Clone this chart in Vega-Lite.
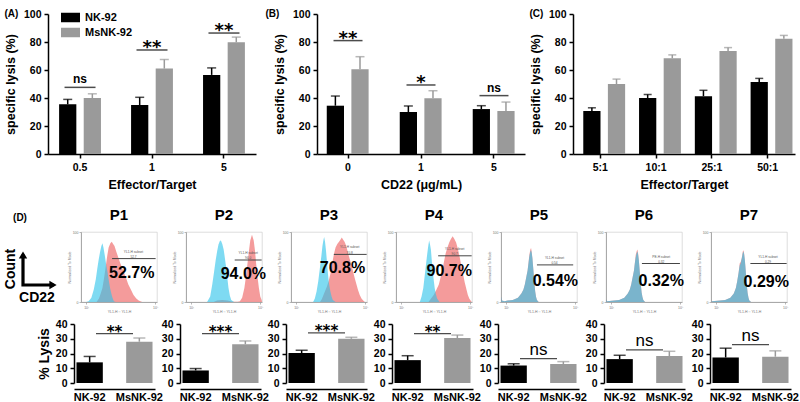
{
"$schema": "https://vega.github.io/schema/vega-lite/v6.json",
"padding": {"left": 4, "top": 8, "right": 2, "bottom": 0},
"background": "white",
"config": {
 "font": "Liberation Sans",
 "view": {"stroke": null},
 "axis": {"labelFont": "Liberation Sans", "titleFont": "Liberation Sans", "labelFontWeight": "bold", "titleFontWeight": "bold", "labelColor": "#000", "titleColor": "#000", "domainColor": "#000", "tickColor": "#000", "grid": false, "domainWidth": 1.5, "tickWidth": 1.5, "tickSize": 4, "labelFontSize": 10.5, "titleFontSize": 12.5, "labelPadding": 3, "titlePadding": 6, "labelOverlap": false},
 "legend": {"orient": "none", "title": null, "symbolType": "M-1,-0.5H1V0.5H-1Z", "symbolSize": 361, "symbolStrokeWidth": 0, "labelFontSize": 11, "labelFontWeight": "bold", "labelFont": "Liberation Sans", "labelColor": "#000", "rowPadding": 0, "padding": 0, "labelOffset": 5},
 "header": {"labelFont": "Liberation Sans", "labelColor": "#000"}
},
"concat": [
 {"hconcat": [
  {
   "width": 208, "height": 140,
   "title": {"text": "(A)", "anchor": "start", "frame": "bounds", "fontSize": 10, "fontWeight": "bold", "offset": -10},
   "data": {"values": [
    {"g": "0.5", "s": "NK-92", "v": 35.5, "e": 39},
    {"g": "0.5", "s": "MsNK-92", "v": 40, "e": 43},
    {"g": "1", "s": "NK-92", "v": 35, "e": 40.5},
    {"g": "1", "s": "MsNK-92", "v": 61, "e": 67.5},
    {"g": "5", "s": "NK-92", "v": 56.5, "e": 61.5},
    {"g": "5", "s": "MsNK-92", "v": 79.8, "e": 83.5},
    {"g": "0.5", "sy": 47.6, "st": "ns"},
    {"g": "1", "sy": 74.3, "st": "**"},
    {"g": "5", "sy": 86.4, "st": "**"}
   ]},
   "encoding": {"x": {"field": "g", "type": "nominal", "sort": ["0.5", "1", "5"], "title": "Effector/Target", "scale": {"paddingInner": 0.35, "paddingOuter": 0.12}, "axis": {"labelAngle": 0, "labelPadding": 4}}},
   "layer": [
    {"transform": [{"filter": "isValid(datum.v)"}], "mark": {"type": "bar"},
     "encoding": {"xOffset": {"field": "s", "sort": ["NK-92", "MsNK-92"], "scale": {"paddingInner": 0.3}},
      "y": {"field": "v", "type": "quantitative", "title": "specific lysis (%)", "scale": {"domain": [0, 100]}, "axis": {"values": [0, 20, 40, 60, 80, 100], "labelOverlap": false}},
      "color": {"field": "s", "type": "nominal", "sort": ["NK-92", "MsNK-92"], "scale": {"domain": ["NK-92", "MsNK-92"], "range": ["#000000", "#9a9a9a"]}, "legend": {"legendX": 13, "legendY": -6}}}},
    {"transform": [{"filter": "isValid(datum.v)"}], "mark": {"type": "rule", "strokeWidth": 1.5},
     "encoding": {"xOffset": {"field": "s", "sort": ["NK-92", "MsNK-92"]}, "y": {"field": "v", "type": "quantitative", "title": "specific lysis (%)", "axis": {"values": [0, 20, 40, 60, 80, 100], "labelOverlap": false}}, "y2": {"field": "e"}, "color": {"field": "s", "type": "nominal", "legend": null}}},
    {"transform": [{"filter": "isValid(datum.v)"}], "mark": {"type": "tick", "thickness": 1.5, "size": 9},
     "encoding": {"xOffset": {"field": "s", "sort": ["NK-92", "MsNK-92"]}, "y": {"field": "e", "type": "quantitative", "title": "specific lysis (%)", "axis": {"values": [0, 20, 40, 60, 80, 100], "labelOverlap": false}}, "color": {"field": "s", "type": "nominal", "legend": null}}},
    {"transform": [{"filter": "isValid(datum.sy)"}], "mark": {"type": "tick", "thickness": 1.5, "size": 31, "color": "#000"},
     "encoding": {"y": {"field": "sy", "type": "quantitative", "title": "specific lysis (%)", "axis": {"values": [0, 20, 40, 60, 80, 100], "labelOverlap": false}}}},
    {"transform": [{"filter": "datum.st === 'ns'"}], "mark": {"type": "text", "font": "Liberation Sans", "fontWeight": "bold", "fontSize": 12, "baseline": "alphabetic", "dy": -4},
     "encoding": {"y": {"field": "sy", "type": "quantitative", "title": "specific lysis (%)", "axis": {"values": [0, 20, 40, 60, 80, 100], "labelOverlap": false}}, "text": {"field": "st"}}},
    {"transform": [{"filter": "isValid(datum.st) && datum.st !== 'ns'"}], "mark": {"type": "text", "font": "DejaVu Sans", "fontWeight": "bold", "fontSize": 18, "baseline": "alphabetic", "dy": 3},
     "encoding": {"y": {"field": "sy", "type": "quantitative", "title": "specific lysis (%)", "axis": {"values": [0, 20, 40, 60, 80, 100], "labelOverlap": false}}, "text": {"field": "st"}}}
   ]
  },
  {"hconcat": [
   {
    "width": 208, "height": 140,
    "title": {"text": "(B)", "anchor": "start", "frame": "bounds", "fontSize": 10, "fontWeight": "bold", "offset": -10, "dx": -8},
    "data": {"values": [
     {"g": "0", "s": "NK-92", "v": 34.5, "e": 41.4},
     {"g": "0", "s": "MsNK-92", "v": 60.5, "e": 69.5},
     {"g": "1", "s": "NK-92", "v": 30, "e": 34.3},
     {"g": "1", "s": "MsNK-92", "v": 39.8, "e": 45.2},
     {"g": "5", "s": "NK-92", "v": 32.1, "e": 34.5},
     {"g": "5", "s": "MsNK-92", "v": 30.7, "e": 37.1},
     {"g": "0", "sy": 81, "st": "**"},
     {"g": "1", "sy": 49.3, "st": "*"},
     {"g": "5", "sy": 41.7, "st": "ns"}
    ]},
    "encoding": {"x": {"field": "g", "type": "nominal", "sort": ["0", "1", "5"], "title": "CD22 (μg/mL)", "scale": {"paddingInner": 0.35, "paddingOuter": 0.1}, "axis": {"labelAngle": 0, "labelPadding": 4}}},
    "layer": [
     {"transform": [{"filter": "isValid(datum.v)"}], "mark": {"type": "bar"},
      "encoding": {"xOffset": {"field": "s", "sort": ["NK-92", "MsNK-92"], "scale": {"paddingInner": 0.3}},
       "y": {"field": "v", "type": "quantitative", "title": "specific lysis (%)", "scale": {"domain": [0, 100]}, "axis": {"values": [0, 20, 40, 60, 80, 100], "labelOverlap": false}},
       "color": {"field": "s", "type": "nominal", "sort": ["NK-92", "MsNK-92"], "scale": {"domain": ["NK-92", "MsNK-92"], "range": ["#000000", "#9a9a9a"]}, "legend": {"legendX": 129, "legendY": -8}}}},
     {"transform": [{"filter": "isValid(datum.v)"}], "mark": {"type": "rule", "strokeWidth": 1.5},
      "encoding": {"xOffset": {"field": "s", "sort": ["NK-92", "MsNK-92"]}, "y": {"field": "v", "type": "quantitative", "title": "specific lysis (%)", "axis": {"values": [0, 20, 40, 60, 80, 100], "labelOverlap": false}}, "y2": {"field": "e"}, "color": {"field": "s", "type": "nominal", "legend": null}}},
     {"transform": [{"filter": "isValid(datum.v)"}], "mark": {"type": "tick", "thickness": 1.5, "size": 9},
      "encoding": {"xOffset": {"field": "s", "sort": ["NK-92", "MsNK-92"]}, "y": {"field": "e", "type": "quantitative", "title": "specific lysis (%)", "axis": {"values": [0, 20, 40, 60, 80, 100], "labelOverlap": false}}, "color": {"field": "s", "type": "nominal", "legend": null}}},
     {"transform": [{"filter": "isValid(datum.sy)"}], "mark": {"type": "tick", "thickness": 1.5, "size": 29, "color": "#000"},
      "encoding": {"y": {"field": "sy", "type": "quantitative", "title": "specific lysis (%)", "axis": {"values": [0, 20, 40, 60, 80, 100], "labelOverlap": false}}}},
     {"transform": [{"filter": "datum.st === 'ns'"}], "mark": {"type": "text", "font": "Liberation Sans", "fontWeight": "bold", "fontSize": 12, "baseline": "alphabetic", "dy": -4},
      "encoding": {"y": {"field": "sy", "type": "quantitative", "title": "specific lysis (%)", "axis": {"values": [0, 20, 40, 60, 80, 100], "labelOverlap": false}}, "text": {"field": "st"}}},
     {"transform": [{"filter": "isValid(datum.st) && datum.st !== 'ns'"}], "mark": {"type": "text", "font": "DejaVu Sans", "fontWeight": "bold", "fontSize": 18, "baseline": "alphabetic", "dy": 3},
      "encoding": {"y": {"field": "sy", "type": "quantitative", "title": "specific lysis (%)", "axis": {"values": [0, 20, 40, 60, 80, 100], "labelOverlap": false}}, "text": {"field": "st"}}}
    ]
   },
   {
    "width": 222, "height": 140,
    "title": {"text": "(C)", "anchor": "start", "frame": "bounds", "fontSize": 10, "fontWeight": "bold", "offset": -10},
    "data": {"values": [
     {"g": "5:1", "s": "NK-92", "v": 30.7, "e": 33},
     {"g": "5:1", "s": "MsNK-92", "v": 50, "e": 53.5},
     {"g": "10:1", "s": "NK-92", "v": 40, "e": 42.5},
     {"g": "10:1", "s": "MsNK-92", "v": 68.4, "e": 70.8},
     {"g": "25:1", "s": "NK-92", "v": 41.3, "e": 45.5},
     {"g": "25:1", "s": "MsNK-92", "v": 73.6, "e": 76},
     {"g": "50:1", "s": "NK-92", "v": 51.4, "e": 54},
     {"g": "50:1", "s": "MsNK-92", "v": 82.3, "e": 84.7}
    ]},
    "encoding": {"x": {"field": "g", "type": "nominal", "sort": ["5:1", "10:1", "25:1", "50:1"], "title": "Effector/Target", "scale": {"paddingInner": 0.3, "paddingOuter": 0.14}, "axis": {"labelAngle": 0, "labelPadding": 4}}},
    "layer": [
     {"mark": {"type": "bar"},
      "encoding": {"xOffset": {"field": "s", "sort": ["NK-92", "MsNK-92"], "scale": {"paddingInner": 0.36, "paddingOuter": 0.1}},
       "y": {"field": "v", "type": "quantitative", "title": "specific lysis (%)", "scale": {"domain": [0, 100]}, "axis": {"values": [0, 20, 40, 60, 80, 100], "labelOverlap": false}},
       "color": {"field": "s", "type": "nominal", "sort": ["NK-92", "MsNK-92"], "scale": {"domain": ["NK-92", "MsNK-92"], "range": ["#000000", "#9a9a9a"]}, "legend": {"legendX": 18, "legendY": -8}}}},
     {"mark": {"type": "rule", "strokeWidth": 1.5},
      "encoding": {"xOffset": {"field": "s", "sort": ["NK-92", "MsNK-92"]}, "y": {"field": "v", "type": "quantitative", "title": "specific lysis (%)", "axis": {"values": [0, 20, 40, 60, 80, 100], "labelOverlap": false}}, "y2": {"field": "e"}, "color": {"field": "s", "type": "nominal", "legend": null}}},
     {"mark": {"type": "tick", "thickness": 1.5, "size": 8},
      "encoding": {"xOffset": {"field": "s", "sort": ["NK-92", "MsNK-92"]}, "y": {"field": "e", "type": "quantitative", "title": "specific lysis (%)", "axis": {"values": [0, 20, 40, 60, 80, 100], "labelOverlap": false}}, "color": {"field": "s", "type": "nominal", "legend": null}}}
    ]
   }
  ], "spacing": 4}
 ], "spacing": 9},
 {"concat": [
  {"hconcat": [
   {
    "width": 14, "height": 70,
    "data": {"values": [
     {"ax": -25, "ay": 46, "o": 0},
     {"ax": -25, "ay": 17, "o": 1},
     {"ax": 4, "ay": 17, "o": 2},
     {"px": -25, "py": 47, "sh": "triangle-up"},
     {"px": 5, "py": 17, "sh": "triangle-right"},
     {"tx": -37, "ty": 33, "t": "Count", "rot": 1},
     {"tx": -11, "ty": 4, "t": "CD22", "rot": 0},
     {"tx": -28, "ty": 84, "t": "(D)", "rot": 2}
    ]},
    "layer": [
     {"transform": [{"filter": "isValid(datum.o)"}], "mark": {"type": "line", "strokeWidth": 3.2, "color": "#000", "strokeCap": "square"},
      "encoding": {"x": {"field": "ax", "type": "quantitative", "scale": {"domain": [0, 14], "zero": false, "nice": false}, "axis": null}, "y": {"field": "ay", "type": "quantitative", "scale": {"domain": [0, 70], "nice": false}, "axis": null}, "order": {"field": "o"}}},
     {"transform": [{"filter": "isValid(datum.sh)"}], "mark": {"type": "point", "filled": true, "color": "#000", "size": 70, "opacity": 1},
      "encoding": {"x": {"field": "px", "type": "quantitative", "axis": null}, "y": {"field": "py", "type": "quantitative", "axis": null}, "shape": {"field": "sh", "type": "nominal", "scale": null}}},
     {"transform": [{"filter": "datum.rot === 1"}], "mark": {"type": "text", "angle": 270, "fontSize": 14, "fontWeight": "bold", "font": "Liberation Sans"},
      "encoding": {"x": {"field": "tx", "type": "quantitative", "axis": null}, "y": {"field": "ty", "type": "quantitative", "axis": null}, "text": {"field": "t"}}},
     {"transform": [{"filter": "datum.rot === 0"}], "mark": {"type": "text", "fontSize": 14, "fontWeight": "bold", "font": "Liberation Sans"},
      "encoding": {"x": {"field": "tx", "type": "quantitative", "axis": null}, "y": {"field": "ty", "type": "quantitative", "axis": null}, "text": {"field": "t"}}},
     {"transform": [{"filter": "datum.rot === 2"}], "mark": {"type": "text", "fontSize": 10, "fontWeight": "bold", "font": "Liberation Sans"},
      "encoding": {"x": {"field": "tx", "type": "quantitative", "axis": null}, "y": {"field": "ty", "type": "quantitative", "axis": null}, "text": {"field": "t"}}}
    ]
   },
   {
    "data": {"values": [
     {"p":"P1","c":"iso","x":0.0,"y":0},{"p":"P1","c":"iso","x":0.14,"y":1},{"p":"P1","c":"iso","x":0.3,"y":6},{"p":"P1","c":"iso","x":0.44,"y":18},{"p":"P1","c":"iso","x":0.56,"y":33},{"p":"P1","c":"iso","x":0.64,"y":47},{"p":"P1","c":"iso","x":0.72,"y":60},{"p":"P1","c":"iso","x":0.8,"y":71},{"p":"P1","c":"iso","x":0.88,"y":80},{"p":"P1","c":"iso","x":0.94,"y":84},{"p":"P1","c":"iso","x":1.0,"y":78},{"p":"P1","c":"iso","x":1.08,"y":66},{"p":"P1","c":"iso","x":1.16,"y":53},{"p":"P1","c":"iso","x":1.24,"y":42},{"p":"P1","c":"iso","x":1.32,"y":29},{"p":"P1","c":"iso","x":1.4,"y":18},{"p":"P1","c":"iso","x":1.5,"y":8},{"p":"P1","c":"iso","x":1.6,"y":1},{"p":"P1","c":"iso","x":1.7,"y":0},
     {"p":"P1","c":"cd","x":0.6,"y":0},{"p":"P1","c":"cd","x":0.74,"y":5},{"p":"P1","c":"cd","x":0.84,"y":12},{"p":"P1","c":"cd","x":0.94,"y":20},{"p":"P1","c":"cd","x":1.04,"y":35},{"p":"P1","c":"cd","x":1.14,"y":52},{"p":"P1","c":"cd","x":1.22,"y":66},{"p":"P1","c":"cd","x":1.3,"y":78},{"p":"P1","c":"cd","x":1.4,"y":84},{"p":"P1","c":"cd","x":1.48,"y":86},{"p":"P1","c":"cd","x":1.56,"y":83},{"p":"P1","c":"cd","x":1.64,"y":80},{"p":"P1","c":"cd","x":1.74,"y":72},{"p":"P1","c":"cd","x":1.84,"y":65},{"p":"P1","c":"cd","x":1.98,"y":55},{"p":"P1","c":"cd","x":2.14,"y":45},{"p":"P1","c":"cd","x":2.3,"y":35},{"p":"P1","c":"cd","x":2.44,"y":25},{"p":"P1","c":"cd","x":2.6,"y":17},{"p":"P1","c":"cd","x":2.74,"y":10},{"p":"P1","c":"cd","x":2.9,"y":5},{"p":"P1","c":"cd","x":3.04,"y":2},{"p":"P1","c":"cd","x":3.24,"y":0},
     {"p":"P2","c":"iso","x":0.92,"y":0},{"p":"P2","c":"iso","x":1.1,"y":8},{"p":"P2","c":"iso","x":1.22,"y":25},{"p":"P2","c":"iso","x":1.32,"y":42},{"p":"P2","c":"iso","x":1.42,"y":60},{"p":"P2","c":"iso","x":1.5,"y":72},{"p":"P2","c":"iso","x":1.58,"y":82},{"p":"P2","c":"iso","x":1.66,"y":87},{"p":"P2","c":"iso","x":1.72,"y":88},{"p":"P2","c":"iso","x":1.8,"y":83},{"p":"P2","c":"iso","x":1.88,"y":75},{"p":"P2","c":"iso","x":1.95,"y":63},{"p":"P2","c":"iso","x":2.02,"y":50},{"p":"P2","c":"iso","x":2.1,"y":33},{"p":"P2","c":"iso","x":2.16,"y":20},{"p":"P2","c":"iso","x":2.24,"y":9},{"p":"P2","c":"iso","x":2.32,"y":3},{"p":"P2","c":"iso","x":2.48,"y":0},
     {"p":"P2","c":"cd","x":1.3,"y":0},{"p":"P2","c":"cd","x":1.5,"y":2},{"p":"P2","c":"cd","x":1.8,"y":3},{"p":"P2","c":"cd","x":2.1,"y":2},{"p":"P2","c":"cd","x":2.4,"y":0.5},{"p":"P2","c":"cd","x":2.7,"y":0.5},{"p":"P2","c":"cd","x":2.82,"y":1},{"p":"P2","c":"cd","x":2.95,"y":6},{"p":"P2","c":"cd","x":3.08,"y":20},{"p":"P2","c":"cd","x":3.18,"y":38},{"p":"P2","c":"cd","x":3.26,"y":55},{"p":"P2","c":"cd","x":3.34,"y":72},{"p":"P2","c":"cd","x":3.42,"y":88},{"p":"P2","c":"cd","x":3.52,"y":96},{"p":"P2","c":"cd","x":3.62,"y":88},{"p":"P2","c":"cd","x":3.7,"y":72},{"p":"P2","c":"cd","x":3.76,"y":55},{"p":"P2","c":"cd","x":3.84,"y":36},{"p":"P2","c":"cd","x":3.92,"y":20},{"p":"P2","c":"cd","x":4.0,"y":8},{"p":"P2","c":"cd","x":4.08,"y":3},{"p":"P2","c":"cd","x":4.1,"y":0},
     {"p":"P3","c":"iso","x":0.98,"y":0},{"p":"P3","c":"iso","x":1.08,"y":5},{"p":"P3","c":"iso","x":1.18,"y":15},{"p":"P3","c":"iso","x":1.28,"y":30},{"p":"P3","c":"iso","x":1.38,"y":50},{"p":"P3","c":"iso","x":1.46,"y":66},{"p":"P3","c":"iso","x":1.52,"y":80},{"p":"P3","c":"iso","x":1.58,"y":89},{"p":"P3","c":"iso","x":1.62,"y":93},{"p":"P3","c":"iso","x":1.67,"y":86},{"p":"P3","c":"iso","x":1.72,"y":75},{"p":"P3","c":"iso","x":1.78,"y":58},{"p":"P3","c":"iso","x":1.84,"y":40},{"p":"P3","c":"iso","x":1.9,"y":26},{"p":"P3","c":"iso","x":1.98,"y":15},{"p":"P3","c":"iso","x":2.05,"y":8},{"p":"P3","c":"iso","x":2.12,"y":3},{"p":"P3","c":"iso","x":2.28,"y":0},
     {"p":"P3","c":"cd","x":1.38,"y":0},{"p":"P3","c":"cd","x":1.48,"y":4},{"p":"P3","c":"cd","x":1.58,"y":10},{"p":"P3","c":"cd","x":1.68,"y":16},{"p":"P3","c":"cd","x":1.78,"y":22},{"p":"P3","c":"cd","x":1.88,"y":30},{"p":"P3","c":"cd","x":1.98,"y":40},{"p":"P3","c":"cd","x":2.05,"y":50},{"p":"P3","c":"cd","x":2.12,"y":60},{"p":"P3","c":"cd","x":2.2,"y":70},{"p":"P3","c":"cd","x":2.28,"y":78},{"p":"P3","c":"cd","x":2.38,"y":83},{"p":"P3","c":"cd","x":2.48,"y":86},{"p":"P3","c":"cd","x":2.56,"y":89},{"p":"P3","c":"cd","x":2.64,"y":92},{"p":"P3","c":"cd","x":2.72,"y":89},{"p":"P3","c":"cd","x":2.8,"y":86},{"p":"P3","c":"cd","x":2.9,"y":80},{"p":"P3","c":"cd","x":2.98,"y":72},{"p":"P3","c":"cd","x":3.08,"y":63},{"p":"P3","c":"cd","x":3.18,"y":55},{"p":"P3","c":"cd","x":3.28,"y":45},{"p":"P3","c":"cd","x":3.38,"y":35},{"p":"P3","c":"cd","x":3.48,"y":26},{"p":"P3","c":"cd","x":3.58,"y":17},{"p":"P3","c":"cd","x":3.68,"y":10},{"p":"P3","c":"cd","x":3.78,"y":5},{"p":"P3","c":"cd","x":3.88,"y":2},{"p":"P3","c":"cd","x":3.98,"y":0},
     {"p":"P4","c":"iso","x":1.08,"y":0},{"p":"P4","c":"iso","x":1.18,"y":8},{"p":"P4","c":"iso","x":1.28,"y":20},{"p":"P4","c":"iso","x":1.35,"y":35},{"p":"P4","c":"iso","x":1.42,"y":50},{"p":"P4","c":"iso","x":1.48,"y":63},{"p":"P4","c":"iso","x":1.54,"y":75},{"p":"P4","c":"iso","x":1.58,"y":82},{"p":"P4","c":"iso","x":1.62,"y":88},{"p":"P4","c":"iso","x":1.67,"y":82},{"p":"P4","c":"iso","x":1.72,"y":75},{"p":"P4","c":"iso","x":1.77,"y":60},{"p":"P4","c":"iso","x":1.82,"y":45},{"p":"P4","c":"iso","x":1.88,"y":32},{"p":"P4","c":"iso","x":1.94,"y":20},{"p":"P4","c":"iso","x":2.0,"y":12},{"p":"P4","c":"iso","x":2.08,"y":5},{"p":"P4","c":"iso","x":2.22,"y":0},
     {"p":"P4","c":"cd","x":1.58,"y":0},{"p":"P4","c":"cd","x":1.73,"y":5},{"p":"P4","c":"cd","x":1.88,"y":10},{"p":"P4","c":"cd","x":2.03,"y":17},{"p":"P4","c":"cd","x":2.18,"y":25},{"p":"P4","c":"cd","x":2.28,"y":35},{"p":"P4","c":"cd","x":2.38,"y":45},{"p":"P4","c":"cd","x":2.48,"y":58},{"p":"P4","c":"cd","x":2.58,"y":70},{"p":"P4","c":"cd","x":2.68,"y":78},{"p":"P4","c":"cd","x":2.78,"y":85},{"p":"P4","c":"cd","x":2.88,"y":90},{"p":"P4","c":"cd","x":2.98,"y":94},{"p":"P4","c":"cd","x":3.08,"y":90},{"p":"P4","c":"cd","x":3.18,"y":85},{"p":"P4","c":"cd","x":3.28,"y":76},{"p":"P4","c":"cd","x":3.38,"y":65},{"p":"P4","c":"cd","x":3.48,"y":52},{"p":"P4","c":"cd","x":3.58,"y":40},{"p":"P4","c":"cd","x":3.68,"y":28},{"p":"P4","c":"cd","x":3.78,"y":18},{"p":"P4","c":"cd","x":3.86,"y":10},{"p":"P4","c":"cd","x":3.94,"y":5},{"p":"P4","c":"cd","x":4.08,"y":0},
     {"p":"P5","c":"iso","x":-0.29,"y":0},{"p":"P5","c":"iso","x":-0.27,"y":8},{"p":"P5","c":"iso","x":-0.24,"y":2},{"p":"P5","c":"iso","x":-0.1,"y":1},{"p":"P5","c":"iso","x":0.08,"y":2},{"p":"P5","c":"iso","x":0.38,"y":3},{"p":"P5","c":"iso","x":0.68,"y":6},{"p":"P5","c":"iso","x":0.88,"y":12},{"p":"P5","c":"iso","x":1.0,"y":18},{"p":"P5","c":"iso","x":1.08,"y":25},{"p":"P5","c":"iso","x":1.16,"y":35},{"p":"P5","c":"iso","x":1.24,"y":45},{"p":"P5","c":"iso","x":1.3,"y":57},{"p":"P5","c":"iso","x":1.34,"y":65},{"p":"P5","c":"iso","x":1.4,"y":72},{"p":"P5","c":"iso","x":1.44,"y":74},{"p":"P5","c":"iso","x":1.48,"y":70},{"p":"P5","c":"iso","x":1.52,"y":62},{"p":"P5","c":"iso","x":1.56,"y":50},{"p":"P5","c":"iso","x":1.6,"y":38},{"p":"P5","c":"iso","x":1.64,"y":25},{"p":"P5","c":"iso","x":1.68,"y":15},{"p":"P5","c":"iso","x":1.73,"y":7},{"p":"P5","c":"iso","x":1.78,"y":3},{"p":"P5","c":"iso","x":1.88,"y":0},
     {"p":"P5","c":"cd","x":-0.29,"y":0},{"p":"P5","c":"cd","x":-0.27,"y":7},{"p":"P5","c":"cd","x":-0.24,"y":2},{"p":"P5","c":"cd","x":-0.1,"y":1},{"p":"P5","c":"cd","x":0.08,"y":2},{"p":"P5","c":"cd","x":0.38,"y":3},{"p":"P5","c":"cd","x":0.68,"y":6},{"p":"P5","c":"cd","x":0.88,"y":12},{"p":"P5","c":"cd","x":1.0,"y":18},{"p":"P5","c":"cd","x":1.08,"y":25},{"p":"P5","c":"cd","x":1.16,"y":35},{"p":"P5","c":"cd","x":1.24,"y":45},{"p":"P5","c":"cd","x":1.3,"y":58},{"p":"P5","c":"cd","x":1.34,"y":67},{"p":"P5","c":"cd","x":1.4,"y":75},{"p":"P5","c":"cd","x":1.44,"y":77},{"p":"P5","c":"cd","x":1.48,"y":71},{"p":"P5","c":"cd","x":1.52,"y":62},{"p":"P5","c":"cd","x":1.56,"y":50},{"p":"P5","c":"cd","x":1.6,"y":38},{"p":"P5","c":"cd","x":1.64,"y":25},{"p":"P5","c":"cd","x":1.68,"y":15},{"p":"P5","c":"cd","x":1.73,"y":7},{"p":"P5","c":"cd","x":1.78,"y":3},{"p":"P5","c":"cd","x":1.88,"y":0},
     {"p":"P6","c":"iso","x":-0.29,"y":0},{"p":"P6","c":"iso","x":-0.27,"y":4},{"p":"P6","c":"iso","x":-0.24,"y":1},{"p":"P6","c":"iso","x":0.16,"y":2},{"p":"P6","c":"iso","x":0.46,"y":3},{"p":"P6","c":"iso","x":0.76,"y":6},{"p":"P6","c":"iso","x":0.96,"y":12},{"p":"P6","c":"iso","x":1.08,"y":18},{"p":"P6","c":"iso","x":1.16,"y":25},{"p":"P6","c":"iso","x":1.24,"y":35},{"p":"P6","c":"iso","x":1.32,"y":45},{"p":"P6","c":"iso","x":1.38,"y":57},{"p":"P6","c":"iso","x":1.42,"y":64},{"p":"P6","c":"iso","x":1.48,"y":70},{"p":"P6","c":"iso","x":1.52,"y":72},{"p":"P6","c":"iso","x":1.56,"y":68},{"p":"P6","c":"iso","x":1.6,"y":60},{"p":"P6","c":"iso","x":1.64,"y":48},{"p":"P6","c":"iso","x":1.68,"y":36},{"p":"P6","c":"iso","x":1.72,"y":24},{"p":"P6","c":"iso","x":1.76,"y":14},{"p":"P6","c":"iso","x":1.81,"y":7},{"p":"P6","c":"iso","x":1.86,"y":3},{"p":"P6","c":"iso","x":1.96,"y":0},
     {"p":"P6","c":"cd","x":-0.29,"y":0},{"p":"P6","c":"cd","x":-0.27,"y":4},{"p":"P6","c":"cd","x":-0.24,"y":1},{"p":"P6","c":"cd","x":0.16,"y":2},{"p":"P6","c":"cd","x":0.46,"y":3},{"p":"P6","c":"cd","x":0.76,"y":6},{"p":"P6","c":"cd","x":0.96,"y":12},{"p":"P6","c":"cd","x":1.08,"y":18},{"p":"P6","c":"cd","x":1.16,"y":25},{"p":"P6","c":"cd","x":1.24,"y":35},{"p":"P6","c":"cd","x":1.32,"y":45},{"p":"P6","c":"cd","x":1.38,"y":58},{"p":"P6","c":"cd","x":1.42,"y":67},{"p":"P6","c":"cd","x":1.48,"y":73},{"p":"P6","c":"cd","x":1.52,"y":75},{"p":"P6","c":"cd","x":1.56,"y":69},{"p":"P6","c":"cd","x":1.6,"y":60},{"p":"P6","c":"cd","x":1.64,"y":48},{"p":"P6","c":"cd","x":1.68,"y":36},{"p":"P6","c":"cd","x":1.72,"y":24},{"p":"P6","c":"cd","x":1.76,"y":14},{"p":"P6","c":"cd","x":1.81,"y":7},{"p":"P6","c":"cd","x":1.86,"y":3},{"p":"P6","c":"cd","x":1.96,"y":0},
     {"p":"P7","c":"iso","x":-0.29,"y":0},{"p":"P7","c":"iso","x":-0.25,"y":1},{"p":"P7","c":"iso","x":0.22,"y":2},{"p":"P7","c":"iso","x":0.52,"y":3},{"p":"P7","c":"iso","x":0.82,"y":6},{"p":"P7","c":"iso","x":1.02,"y":12},{"p":"P7","c":"iso","x":1.14,"y":20},{"p":"P7","c":"iso","x":1.22,"y":30},{"p":"P7","c":"iso","x":1.3,"y":42},{"p":"P7","c":"iso","x":1.36,"y":52},{"p":"P7","c":"iso","x":1.42,"y":55},{"p":"P7","c":"iso","x":1.48,"y":62},{"p":"P7","c":"iso","x":1.54,"y":70},{"p":"P7","c":"iso","x":1.58,"y":72},{"p":"P7","c":"iso","x":1.62,"y":68},{"p":"P7","c":"iso","x":1.66,"y":60},{"p":"P7","c":"iso","x":1.7,"y":48},{"p":"P7","c":"iso","x":1.74,"y":35},{"p":"P7","c":"iso","x":1.78,"y":22},{"p":"P7","c":"iso","x":1.82,"y":13},{"p":"P7","c":"iso","x":1.87,"y":6},{"p":"P7","c":"iso","x":1.92,"y":2},{"p":"P7","c":"iso","x":2.02,"y":0},
     {"p":"P7","c":"cd","x":-0.29,"y":0},{"p":"P7","c":"cd","x":-0.25,"y":1},{"p":"P7","c":"cd","x":0.22,"y":2},{"p":"P7","c":"cd","x":0.52,"y":3},{"p":"P7","c":"cd","x":0.82,"y":6},{"p":"P7","c":"cd","x":1.02,"y":12},{"p":"P7","c":"cd","x":1.14,"y":20},{"p":"P7","c":"cd","x":1.22,"y":30},{"p":"P7","c":"cd","x":1.3,"y":42},{"p":"P7","c":"cd","x":1.36,"y":55},{"p":"P7","c":"cd","x":1.42,"y":57},{"p":"P7","c":"cd","x":1.48,"y":63},{"p":"P7","c":"cd","x":1.54,"y":72},{"p":"P7","c":"cd","x":1.58,"y":74},{"p":"P7","c":"cd","x":1.62,"y":69},{"p":"P7","c":"cd","x":1.66,"y":60},{"p":"P7","c":"cd","x":1.7,"y":48},{"p":"P7","c":"cd","x":1.74,"y":35},{"p":"P7","c":"cd","x":1.78,"y":22},{"p":"P7","c":"cd","x":1.82,"y":13},{"p":"P7","c":"cd","x":1.87,"y":6},{"p":"P7","c":"cd","x":1.92,"y":2},{"p":"P7","c":"cd","x":2.02,"y":0},
     {"p":"P1","gx":1.5,"gx2":4.02,"gy":62,"sx":2.74,"sy":72,"sm":"YL1-H subset\n52.7","bx":2.64,"by":42,"big":"52.7%"},
     {"p":"P2","gx":2.52,"gx2":4.08,"gy":60,"sx":3.3,"sy":70,"sm":"YL1-H subset\n94.0","bx":3.02,"by":40,"big":"94.0%"},
     {"p":"P3","gx":2.18,"gx2":4.08,"gy":68,"sx":3.1,"sy":78,"sm":"YL1-H subset\n70.8","bx":2.68,"by":49,"big":"70.8%"},
     {"p":"P4","gx":2.14,"gx2":4.08,"gy":66,"sx":3.1,"sy":76,"sm":"YL1-H subset\n90.7","bx":2.78,"by":44,"big":"90.7%"},
     {"p":"P5","gx":1.78,"gx2":3.88,"gy":53,"sx":2.8,"sy":63,"sm":"YL1-H subset\n0.54","bx":2.85,"by":30,"big":"0.54%"},
     {"p":"P6","gx":1.78,"gx2":3.98,"gy":55,"sx":2.9,"sy":65,"sm":"PE-H subset\n0.32","bx":2.9,"by":30,"big":"0.32%"},
     {"p":"P7","gx":1.98,"gx2":4.08,"gy":55,"sx":3.0,"sy":65,"sm":"YL1-H subset\n0.29","bx":2.9,"by":28,"big":"0.29%"}
    ]},
    "facet": {"column": {"field": "p", "type": "nominal", "header": {"title": null, "labelFontSize": 15, "labelFontWeight": "bold", "labelPadding": 6}}},
    "spacing": 9,
    "resolve": {"axis": {"y": "independent", "x": "independent"}},
    "spec": {
     "width": 76, "height": 70,
     "view": {"stroke": "#cfcfcf", "strokeWidth": 0.7},
     "layer": [
      {"transform": [{"filter": "datum.c === 'cd'"}], "mark": {"type": "area", "color": "#F07070", "opacity": 0.7, "clip": true},
       "encoding": {
        "x": {"field": "x", "type": "quantitative", "scale": {"domain": [-0.3, 4.1], "nice": false, "zero": false}, "title": "YL1-H :: YL1-H", "axis": {"values": [0, 1, 2, 3, 4], "labelExpr": "'10' + ['¹','²','³','⁴','⁵'][datum.value]", "labelFontSize": 3.5, "labelFontWeight": "normal", "labelColor": "#777", "tickSize": 2, "tickWidth": 0.6, "tickColor": "#888", "domainColor": "#999", "domainWidth": 0.8, "titleFontSize": 3.5, "titleFontWeight": "normal", "titleColor": "#777", "titlePadding": 1, "labelPadding": 1}},
        "y": {"field": "y", "type": "quantitative", "scale": {"domain": [0, 100], "nice": false}, "title": "Normalized To Mode", "axis": {"values": [0, 20, 40, 60, 80, 100], "labelFontSize": 3.5, "labelFontWeight": "normal", "labelColor": "#777", "tickSize": 2, "tickWidth": 0.6, "tickColor": "#888", "domainColor": "#999", "domainWidth": 0.8, "titleFontSize": 3.5, "titleFontWeight": "normal", "titleColor": "#777", "titlePadding": 1, "labelPadding": 1}}
       }},
      {"transform": [{"filter": "datum.c === 'iso'"}], "mark": {"type": "area", "color": "#2EC4EA", "opacity": 0.62, "clip": true},
       "encoding": {"x": {"field": "x", "type": "quantitative", "title": "YL1-H :: YL1-H"}, "y": {"field": "y", "type": "quantitative", "title": "Normalized To Mode"}}},
      {"transform": [{"filter": "isValid(datum.gx)"}], "mark": {"type": "rule", "color": "#444", "strokeWidth": 1},
       "encoding": {"x": {"field": "gx", "type": "quantitative", "title": "YL1-H :: YL1-H"}, "x2": {"field": "gx2"}, "y": {"field": "gy", "type": "quantitative", "title": "Normalized To Mode"}}},
      {"transform": [{"filter": "isValid(datum.gx)"}], "mark": {"type": "text", "fontSize": 3.2, "color": "#555", "lineBreak": "\n", "baseline": "middle"},
       "encoding": {"x": {"field": "sx", "type": "quantitative", "title": "YL1-H :: YL1-H"}, "y": {"field": "sy", "type": "quantitative", "title": "Normalized To Mode"}, "text": {"field": "sm"}}},
      {"transform": [{"filter": "isValid(datum.gx)"}], "mark": {"type": "text", "fontSize": 16, "fontWeight": "bold", "color": "#000", "baseline": "middle", "font": "Liberation Sans"},
       "encoding": {"x": {"field": "bx", "type": "quantitative", "title": "YL1-H :: YL1-H"}, "y": {"field": "by", "type": "quantitative", "title": "Normalized To Mode"}, "text": {"field": "big"}}}
     ]
    }
   }
  ], "spacing": 4},
  {"hconcat": [
   {"width": 1, "height": 59,
    "data": {"values": [{"lx": -3, "ly": 29, "t": "% Lysis"}]},
    "mark": {"type": "text", "angle": 270, "fontSize": 14, "fontWeight": "bold", "font": "Liberation Sans"},
    "encoding": {"x": {"field": "lx", "type": "quantitative", "scale": {"domain": [0, 1], "zero": false, "nice": false}, "axis": null}, "y": {"field": "ly", "type": "quantitative", "scale": {"domain": [0, 59], "nice": false}, "axis": null}, "text": {"field": "t"}}},
   {
    "data": {"values": [
     {"p": "P1", "s": "NK-92", "v": 14, "e": 18},
     {"p": "P1", "s": "MsNK-92", "v": 28, "e": 30.5},
     {"p": "P2", "s": "NK-92", "v": 8.5, "e": 9.8},
     {"p": "P2", "s": "MsNK-92", "v": 26.3, "e": 28.5},
     {"p": "P3", "s": "NK-92", "v": 20.3, "e": 22.2},
     {"p": "P3", "s": "MsNK-92", "v": 30, "e": 31},
     {"p": "P4", "s": "NK-92", "v": 15.5, "e": 18.5},
     {"p": "P4", "s": "MsNK-92", "v": 30.5, "e": 32.5},
     {"p": "P5", "s": "NK-92", "v": 11.8, "e": 13},
     {"p": "P5", "s": "MsNK-92", "v": 12.8, "e": 14.5},
     {"p": "P6", "s": "NK-92", "v": 16.2, "e": 18.8},
     {"p": "P6", "s": "MsNK-92", "v": 18.3, "e": 21.5},
     {"p": "P7", "s": "NK-92", "v": 17.3, "e": 23.6},
     {"p": "P7", "s": "MsNK-92", "v": 17.8, "e": 21.8},
     {"p": "P1", "sy": 33.5, "st": "**"},
     {"p": "P2", "sy": 33.5, "st": "***"},
     {"p": "P3", "sy": 34, "st": "***"},
     {"p": "P4", "sy": 33.5, "st": "**"},
     {"p": "P5", "sy": 16.5, "st": "ns"},
     {"p": "P6", "sy": 22.5, "st": "ns"},
     {"p": "P7", "sy": 26, "st": "ns"}
    ]},
    "facet": {"column": {"field": "p", "type": "nominal", "header": {"title": null, "labels": false}}},
    "spacing": 6,
    "resolve": {"axis": {"y": "independent"}},
    "spec": {
     "width": 81, "height": 59,
     "layer": [
      {"transform": [{"filter": "isValid(datum.v)"}], "mark": {"type": "bar"},
       "encoding": {
        "x": {"field": "s", "type": "nominal", "sort": ["NK-92", "MsNK-92"], "title": null, "scale": {"paddingInner": 0.47, "paddingOuter": 0.05}, "axis": {"labelAngle": 0, "labelFontSize": 11, "ticks": false, "labelPadding": 2}},
        "y": {"field": "v", "type": "quantitative", "title": null, "scale": {"domain": [0, 40]}, "axis": {"values": [0, 10, 20, 30, 40], "labelFontSize": 10.5, "labelOverlap": false}},
        "color": {"field": "s", "type": "nominal", "scale": {"domain": ["NK-92", "MsNK-92"], "range": ["#000000", "#9a9a9a"]}, "legend": null}}},
      {"transform": [{"filter": "isValid(datum.v)"}], "mark": {"type": "rule", "strokeWidth": 1.5},
       "encoding": {"x": {"field": "s", "type": "nominal", "sort": ["NK-92", "MsNK-92"], "title": null}, "y": {"field": "v", "type": "quantitative", "title": null, "axis": {"values": [0, 10, 20, 30, 40], "labelOverlap": false}}, "y2": {"field": "e"}, "color": {"field": "s", "type": "nominal", "legend": null}}},
      {"transform": [{"filter": "isValid(datum.v)"}], "mark": {"type": "tick", "thickness": 1.5, "size": 12},
       "encoding": {"x": {"field": "s", "type": "nominal", "sort": ["NK-92", "MsNK-92"], "title": null}, "y": {"field": "e", "type": "quantitative", "title": null, "axis": {"values": [0, 10, 20, 30, 40], "labelOverlap": false}}, "color": {"field": "s", "type": "nominal", "legend": null}}},
      {"transform": [{"filter": "isValid(datum.sy)"}], "mark": {"type": "tick", "thickness": 1.2, "size": 37, "color": "#000"},
       "encoding": {"y": {"field": "sy", "type": "quantitative", "title": null, "axis": {"values": [0, 10, 20, 30, 40], "labelOverlap": false}}}},
      {"transform": [{"filter": "datum.st === 'ns'"}], "mark": {"type": "text", "font": "Liberation Sans", "fontSize": 17, "baseline": "alphabetic", "dy": -4},
       "encoding": {"y": {"field": "sy", "type": "quantitative", "title": null, "axis": {"values": [0, 10, 20, 30, 40], "labelOverlap": false}}, "text": {"field": "st"}}},
      {"transform": [{"filter": "isValid(datum.st) && datum.st !== 'ns'"}], "mark": {"type": "text", "font": "DejaVu Sans", "fontWeight": "bold", "fontSize": 15, "baseline": "alphabetic", "dy": 3},
       "encoding": {"y": {"field": "sy", "type": "quantitative", "title": null, "axis": {"values": [0, 10, 20, 30, 40], "labelOverlap": false}}, "text": {"field": "st"}}}
     ]
    }
   }
  ], "spacing": 2}
 ], "columns": 1, "align": "none", "spacing": 5}
],
"columns": 1,
"align": "none",
"spacing": 17
}
